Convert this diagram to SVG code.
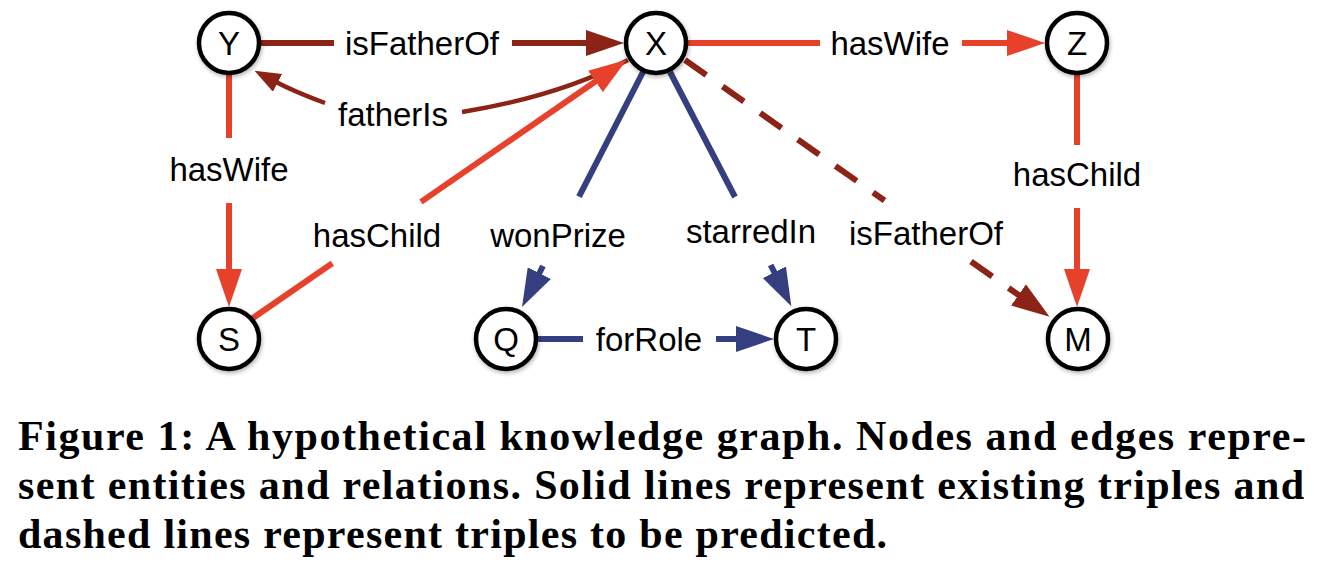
<svg xmlns="http://www.w3.org/2000/svg" width="1336" height="572" viewBox="0 0 1336 572">
<style>
.node circle{fill:#fff;stroke:#000;stroke-width:4.5;filter:url(#sh)}
.node text{font-family:"Liberation Sans",Arial,sans-serif;font-size:33px;text-anchor:middle;fill:#000}
.lbl{font-family:"Liberation Sans",Arial,sans-serif;font-size:33px;text-anchor:middle;fill:#000}
.red{stroke:#E8412B;stroke-width:6;fill:none}
.dred{stroke:#8B2316;stroke-width:6;fill:none}
.dred2{stroke:#8B2316;stroke-width:4.5;fill:none}
.blue{stroke:#353F7F;stroke-width:6;fill:none}
.dash{stroke-dasharray:26 20}
.cap{font-family:"Liberation Serif","Times New Roman",serif;font-weight:bold;font-size:42px;fill:#000}
</style>
<defs>
<filter id="sh" x="-30%" y="-30%" width="160%" height="160%">
<feDropShadow dx="1" dy="2" stdDeviation="2" flood-color="#000" flood-opacity="0.3"/>
</filter>
<marker id="aR" viewBox="0 0 38 26" refX="6" refY="13" markerWidth="38" markerHeight="26" markerUnits="userSpaceOnUse" orient="auto"><path d="M0,0 L38,13 L0,26 z" fill="#E8412B"/></marker>
<marker id="aD" viewBox="0 0 38 26" refX="6" refY="13" markerWidth="38" markerHeight="26" markerUnits="userSpaceOnUse" orient="auto"><path d="M0,0 L38,13 L0,26 z" fill="#8B2316"/></marker>
<marker id="aDs" viewBox="0 0 26 20" refX="4" refY="10" markerWidth="26" markerHeight="20" markerUnits="userSpaceOnUse" orient="auto"><path d="M0,0 L26,10 L0,20 z" fill="#8B2316"/></marker>
<marker id="aB" viewBox="0 0 38 26" refX="6" refY="13" markerWidth="38" markerHeight="26" markerUnits="userSpaceOnUse" orient="auto"><path d="M0,0 L38,13 L0,26 z" fill="#353F7F"/></marker>
</defs>
<g id="connectors">
<!-- Y isFatherOf X -->
<line class="dred" x1="260" y1="43" x2="334" y2="43"/>
<line class="dred" x1="512" y1="43" x2="592" y2="43" marker-end="url(#aD)"/>
<text class="lbl" x="422" y="55">isFatherOf</text>
<!-- X fatherIs Y -->
<path class="dred2" d="M628,60 Q560,96 462,112"/>
<path class="dred2" d="M325,103 Q295,92 274,81" marker-end="url(#aDs)"/>
<text class="lbl" x="393" y="126">fatherIs</text>
<!-- X hasWife Z -->
<line class="red" x1="687" y1="43" x2="820" y2="43"/>
<line class="red" x1="962" y1="43" x2="1013" y2="43" marker-end="url(#aR)"/>
<text class="lbl" x="890" y="55">hasWife</text>
<!-- Y hasWife S -->
<line class="red" x1="229" y1="74" x2="229" y2="138"/>
<line class="red" x1="229" y1="203" x2="229" y2="275" marker-end="url(#aR)"/>
<text class="lbl" x="229" y="181">hasWife</text>
<!-- Z hasChild M -->
<line class="red" x1="1077" y1="74" x2="1077" y2="145"/>
<line class="red" x1="1077" y1="208" x2="1077" y2="275" marker-end="url(#aR)"/>
<text class="lbl" x="1077" y="186">hasChild</text>
<!-- S hasChild X -->
<line class="red" x1="250" y1="320" x2="332.3" y2="263.2"/>
<line class="red" x1="421" y1="201.9" x2="600.4" y2="78" marker-end="url(#aR)"/>
<text class="lbl" x="377" y="247">hasChild</text>
<!-- X wonPrize Q -->
<line class="blue" x1="643" y1="72" x2="579" y2="196.6"/>
<line class="blue" x1="543" y1="266" x2="536.6" y2="278.5" marker-end="url(#aB)"/>
<text class="lbl" x="558" y="247">wonPrize</text>
<!-- X starredIn T -->
<line class="blue" x1="670" y1="72" x2="735" y2="197"/>
<line class="blue" x1="770.7" y1="265" x2="777" y2="277.6" marker-end="url(#aB)"/>
<text class="lbl" x="751" y="243">starredIn</text>
<!-- Q forRole T -->
<line class="blue" x1="537" y1="339" x2="583" y2="339"/>
<line class="blue" x1="716" y1="339" x2="742" y2="339" marker-end="url(#aB)"/>
<text class="lbl" x="649" y="351">forRole</text>
<!-- X isFatherOf M (predicted) -->
<line class="dred dash" x1="685" y1="60" x2="884.5" y2="200.5"/>
<line class="dred dash" x1="971" y1="261.5" x2="1023.4" y2="298.4" marker-end="url(#aD)"/>
<text class="lbl" x="926" y="245">isFatherOf</text>
</g>
<g id="node-Y" class="node"><circle cx="229" cy="43" r="30"/><text x="229" y="55">Y</text></g>
<g id="node-X" class="node"><circle cx="656" cy="43" r="30"/><text x="656" y="55">X</text></g>
<g id="node-Z" class="node"><circle cx="1077" cy="43" r="30"/><text x="1077" y="55">Z</text></g>
<g id="node-S" class="node"><circle cx="229" cy="339" r="30"/><text x="229" y="351">S</text></g>
<g id="node-Q" class="node"><circle cx="506" cy="339" r="30"/><text x="506" y="351">Q</text></g>
<g id="node-T" class="node"><circle cx="806" cy="339" r="30"/><text x="806" y="351">T</text></g>
<g id="node-M" class="node"><circle cx="1078" cy="339" r="30"/><text x="1078" y="351">M</text></g>
<g id="caption">
<text class="cap" x="18" y="450" textLength="1288" lengthAdjust="spacing">Figure 1: A hypothetical knowledge graph. Nodes and edges repre-</text>
<text class="cap" x="18" y="499" textLength="1286" lengthAdjust="spacing">sent entities and relations. Solid lines represent existing triples and</text>
<text class="cap" x="18" y="548" textLength="869" lengthAdjust="spacing">dashed lines represent triples to be predicted.</text>
</g>
</svg>
